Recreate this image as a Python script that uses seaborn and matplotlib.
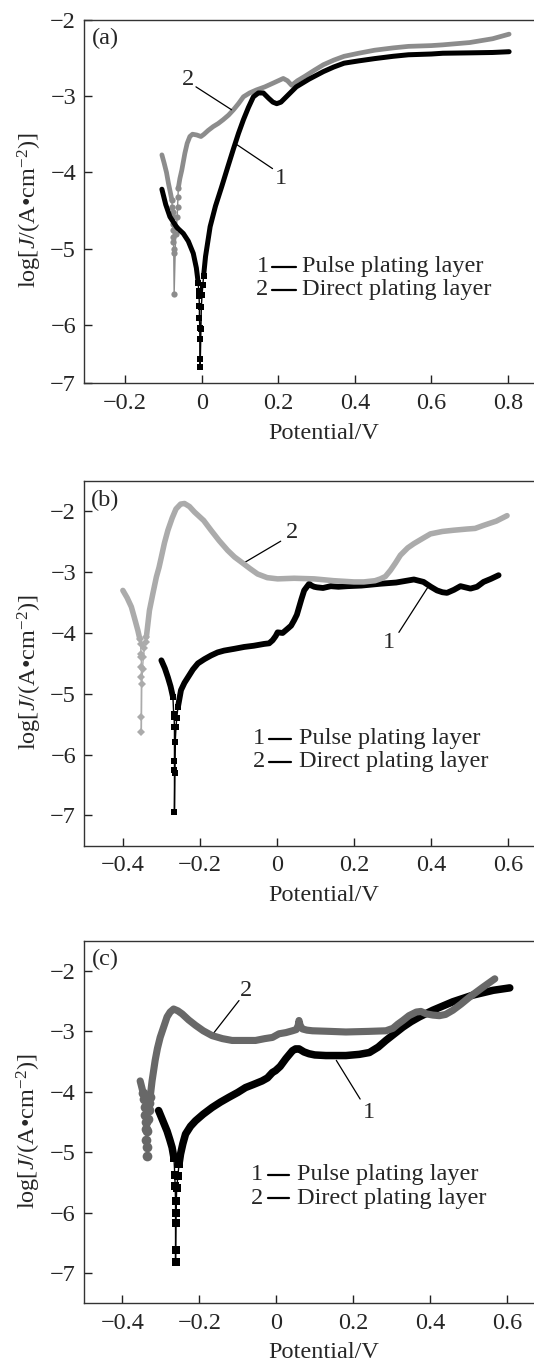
import seaborn as sns
import matplotlib.pyplot as plt

# ---- panel (a) data ----
a1_cath_x = [-0.104, -0.094, -0.083, -0.065, -0.048, -0.035, -0.022, -0.014, -0.009]
a1_cath_y = [-4.22, -4.42, -4.58, -4.72, -4.80, -4.90, -5.06, -5.25, -5.45]
a1_tip_x = [-0.009, -0.008, -0.007, -0.006, -0.006, -0.005, -0.005, -0.004, -0.004,
            -0.002, -0.001, 0.001, 0.003, 0.005]
a1_tip_y = [-5.45, -5.55, -5.62, -5.75, -5.90, -6.03, -6.18, -6.44, -6.55,
            -6.05, -5.76, -5.60, -5.47, -5.35]
a1_anod_x = [0.005, 0.010, 0.022, 0.036, 0.052, 0.068, 0.083, 0.096, 0.109, 0.122, 0.135,
             0.148, 0.161, 0.175, 0.186, 0.196, 0.207, 0.219, 0.231, 0.247, 0.28, 0.318,
             0.345, 0.372, 0.41, 0.452, 0.5, 0.54, 0.6, 0.63, 0.7, 0.76, 0.803]
a1_anod_y = [-5.35, -5.10, -4.71, -4.44, -4.19, -3.93, -3.69, -3.49, -3.31, -3.15, -3.01,
             -2.96, -2.96, -3.03, -3.08, -3.10, -3.08, -3.02, -2.96, -2.88, -2.78, -2.68,
             -2.62, -2.57, -2.54, -2.51, -2.48, -2.46, -2.45, -2.44, -2.435, -2.43, -2.42]

a2_cath_x = [-0.104, -0.098, -0.092, -0.087, -0.082, -0.078]
a2_cath_y = [-3.77, -3.88, -4.00, -4.14, -4.26, -4.36]
a2_tip_x = [-0.078, -0.077, -0.076, -0.076, -0.075, -0.075, -0.074, -0.074, -0.073, -0.073,
            -0.072, -0.068, -0.066, -0.064, -0.063, -0.062, -0.061]
a2_tip_y = [-4.36, -4.45, -4.52, -4.58, -4.67, -4.76, -4.84, -4.91, -5.00, -5.06,
            -5.59, -4.80, -4.71, -4.58, -4.45, -4.32, -4.20]
a2_anod_x = [-0.061, -0.057, -0.052, -0.048, -0.044, -0.038, -0.031, -0.024, -0.013, -0.002,
             0.006, 0.017, 0.030, 0.043, 0.056, 0.07, 0.083, 0.096, 0.109, 0.125, 0.143,
             0.165, 0.187, 0.200, 0.213, 0.224, 0.235, 0.25, 0.27, 0.295, 0.318, 0.345,
             0.372, 0.41, 0.452, 0.5, 0.54, 0.6, 0.63, 0.7, 0.76, 0.803]
a2_anod_y = [-4.20, -4.08, -3.97, -3.86, -3.75, -3.62, -3.53, -3.50, -3.51, -3.53,
             -3.50, -3.45, -3.40, -3.36, -3.31, -3.25, -3.18, -3.10, -3.01, -2.96, -2.92,
             -2.88, -2.83, -2.80, -2.77, -2.80, -2.86, -2.80, -2.74, -2.66, -2.59, -2.53,
             -2.48, -2.44, -2.40, -2.37, -2.35, -2.34, -2.33, -2.30, -2.25, -2.19]

# ---- panel (b) data ----
b1_cath_x = [-0.300, -0.291, -0.283, -0.276, -0.270]
b1_cath_y = [-4.45, -4.58, -4.73, -4.88, -5.05]
b1_tip_x = [-0.270, -0.268, -0.267, -0.266, -0.266, -0.266, -0.266, -0.265, -0.264,
            -0.262, -0.260, -0.257]
b1_tip_y = [-5.05, -5.33, -5.38, -5.55, -6.10, -6.26, -6.95, -6.30, -5.80,
            -5.55, -5.40, -5.22]
b1_anod_x = [-0.257, -0.249, -0.240, -0.231, -0.218, -0.205, -0.188, -0.171, -0.154, -0.137,
             -0.11, -0.085, -0.06, -0.033, -0.02, -0.011, -0.003, 0.002, 0.015, 0.028,
             0.037, 0.045, 0.052, 0.058, 0.064, 0.071, 0.078, 0.084, 0.09, 0.097, 0.105,
             0.12, 0.140, 0.16, 0.183, 0.22, 0.269, 0.31, 0.356, 0.381, 0.40, 0.416, 0.43,
             0.442, 0.46, 0.477, 0.49, 0.503, 0.52, 0.537, 0.556, 0.576]
b1_anod_y = [-5.22, -4.94, -4.82, -4.73, -4.60, -4.50, -4.43, -4.37, -4.32, -4.29,
             -4.26, -4.23, -4.21, -4.18, -4.17, -4.12, -4.05, -3.99, -4.00, -3.93,
             -3.88, -3.79, -3.70, -3.57, -3.44, -3.30, -3.24, -3.19, -3.22, -3.24, -3.25,
             -3.26, -3.23, -3.24, -3.23, -3.22, -3.19, -3.17, -3.12, -3.16, -3.24, -3.30, -3.33,
             -3.34, -3.29, -3.23, -3.25, -3.27, -3.24, -3.16, -3.11, -3.05]

b2_cath_x = [-0.400, -0.389, -0.378, -0.370, -0.361, -0.356]
b2_cath_y = [-3.30, -3.42, -3.57, -3.75, -3.96, -4.10]
b2_tip_x = [-0.356, -0.354, -0.353, -0.352, -0.352, -0.352, -0.352, -0.352, -0.351,
            -0.349, -0.347, -0.344, -0.341, -0.339]
b2_tip_y = [-4.10, -4.18, -4.34, -4.40, -4.56, -4.73, -5.39, -5.63, -4.84,
            -4.60, -4.40, -4.25, -4.15, -4.07]
b2_anod_x = [-0.339, -0.335, -0.331, -0.322, -0.313, -0.306, -0.300, -0.292, -0.283, -0.272,
             -0.262, -0.250, -0.240, -0.227, -0.214, -0.19, -0.171, -0.15, -0.128, -0.11,
             -0.093, -0.07, -0.050, -0.025, 0.002, 0.045, 0.097, 0.148, 0.2, 0.226, 0.255,
             0.269, 0.282, 0.295, 0.308, 0.321, 0.34, 0.356, 0.38, 0.399, 0.43, 0.459, 0.494,
             0.515, 0.537, 0.57, 0.598]
b2_anod_y = [-4.07, -3.85, -3.63, -3.35, -3.08, -2.92, -2.75, -2.52, -2.31, -2.11,
             -1.96, -1.88, -1.87, -1.92, -2.01, -2.15, -2.31, -2.48, -2.64, -2.75,
             -2.83, -2.94, -3.03, -3.09, -3.11, -3.10, -3.11, -3.14, -3.16, -3.16, -3.14,
             -3.11, -3.07, -2.97, -2.85, -2.72, -2.60, -2.53, -2.44, -2.37, -2.33, -2.31, -2.29,
             -2.28, -2.23, -2.16, -2.07]

# ---- panel (c) data ----
c1_cath_x = [-0.306, -0.295, -0.284, -0.277, -0.271, -0.266]
c1_cath_y = [-4.31, -4.48, -4.65, -4.79, -4.92, -5.10]
c1_tip_x = [-0.266, -0.264, -0.263, -0.262, -0.262, -0.262, -0.262, -0.261, -0.259,
            -0.256, -0.253]
c1_tip_y = [-5.10, -5.37, -5.56, -5.81, -6.17, -6.61, -6.81, -6.00, -5.60,
            -5.40, -5.20]
c1_anod_x = [-0.253, -0.249, -0.243, -0.236, -0.223, -0.210, -0.19, -0.167, -0.145, -0.123,
             -0.10, -0.080, -0.06, -0.037, -0.023, -0.010, -0.002, 0.01, 0.025, 0.042,
             0.05, 0.059, 0.072, 0.085, 0.1, 0.129, 0.181, 0.216, 0.242, 0.265, 0.285,
             0.307, 0.329, 0.35, 0.372, 0.407, 0.459, 0.511, 0.564, 0.607]
c1_anod_y = [-5.20, -5.03, -4.86, -4.70, -4.57, -4.48, -4.37, -4.26, -4.17, -4.09,
             -4.01, -3.93, -3.88, -3.82, -3.77, -3.68, -3.65, -3.58, -3.45, -3.32,
             -3.29, -3.29, -3.34, -3.37, -3.39, -3.40, -3.40, -3.38, -3.35, -3.26, -3.15,
             -3.04, -2.93, -2.84, -2.76, -2.65, -2.51, -2.40, -2.32, -2.28]

c2_cath_x = [-0.354, -0.350, -0.346]
c2_cath_y = [-3.82, -3.92, -4.02]
c2_tip_x = [-0.346, -0.344, -0.342, -0.341, -0.340, -0.339, -0.338, -0.337, -0.337,
            -0.336, -0.334, -0.332, -0.330, -0.328]
c2_tip_y = [-4.02, -4.12, -4.25, -4.38, -4.50, -4.62, -4.80, -4.92, -5.06,
            -4.65, -4.45, -4.30, -4.18, -4.09]
c2_anod_x = [-0.328, -0.323, -0.319, -0.315, -0.309, -0.302, -0.293, -0.284, -0.276, -0.267,
             -0.256, -0.245, -0.228, -0.210, -0.19, -0.167, -0.14, -0.115, -0.085, -0.054,
             -0.03, -0.010, 0.007, 0.025, 0.042, 0.052, 0.057, 0.059, 0.062, 0.068, 0.08,
             0.094, 0.14, 0.181, 0.24, 0.285, 0.303, 0.316, 0.329, 0.345, 0.364, 0.376,
             0.390, 0.407, 0.424, 0.44, 0.459, 0.48, 0.503, 0.52, 0.537, 0.568]
c2_anod_y = [-4.09, -3.82, -3.65, -3.48, -3.28, -3.10, -2.93, -2.76, -2.68, -2.63,
             -2.66, -2.71, -2.81, -2.90, -2.99, -3.07, -3.12, -3.15, -3.15, -3.15,
             -3.12, -3.10, -3.04, -3.02, -2.99, -2.97, -2.90, -2.82, -2.90, -2.96, -2.98,
             -2.99, -3.00, -3.01, -3.00, -2.99, -2.95, -2.88, -2.82, -2.74, -2.68, -2.67,
             -2.71, -2.73, -2.74, -2.72, -2.65, -2.55, -2.43, -2.35, -2.27, -2.13]

# ticks
xticks_a = [-0.2, 0, 0.2, 0.4, 0.6, 0.8]
xlabels_a = ['\u22120.2', '0', '0.2', '0.4', '0.6', '0.8']
yticks_a = [-6.76, -6, -5, -4, -3, -2]
ylabels_a = ['\u22127', '\u22126', '\u22125', '\u22124', '\u22123', '\u22122']
xticks_bc = [-0.4, -0.2, 0, 0.2, 0.4, 0.6]
xlabels_bc = ['\u22120.4', '\u22120.2', '0', '0.2', '0.4', '0.6']
yticks_bc = [-7, -6, -5, -4, -3, -2]
ylabels_bc = ['\u22127', '\u22126', '\u22125', '\u22124', '\u22123', '\u22122']

legend_labels = ['Pulse plating layer', 'Direct plating layer']

sns.set_theme(style='ticks')
plt.rcParams['font.family'] = ['Liberation Serif', 'DejaVu Serif']
plt.rcParams['mathtext.fontset'] = 'custom'
plt.rcParams['mathtext.rm'] = 'Liberation Serif'
plt.rcParams['mathtext.it'] = 'Liberation Serif:italic'
FS = 17.5

fig = plt.figure(figsize=(5.34, 13.63), dpi=100)

panels = [
    dict(tag='(a)', pos=[0.158, 0.7188, 0.842, 0.2668], xlim=(-0.3065, 0.868), ylim=(-6.76, -2.0),
         xt=xticks_a, xl=xlabels_a, yt=yticks_a, yl=ylabels_a,
         c1=(a1_cath_x, a1_cath_y, a1_tip_x, a1_tip_y, a1_anod_x, a1_anod_y),
         c2=(a2_cath_x, a2_cath_y, a2_tip_x, a2_tip_y, a2_anod_x, a2_anod_y),
         col2='#8c8c8c', m2='o', lw=3.6, black_top=True,
         lab2=((-0.035, -2.79), (-0.015, -2.88), (0.078, -3.18)),
         lab1=((0.207, -4.08), (0.185, -3.95), (0.087, -3.62)),
         leg=(0.396, 0.321, 0.257, 0.418, 0.471, 0.485)),
    dict(tag='(b)', pos=[0.158, 0.3795, 0.842, 0.2676], xlim=(-0.5, 0.668), ylim=(-7.5, -1.5),
         xt=xticks_bc, xl=xlabels_bc, yt=yticks_bc, yl=ylabels_bc,
         c1=(b1_cath_x, b1_cath_y, b1_tip_x, b1_tip_y, b1_anod_x, b1_anod_y),
         c2=(b2_cath_x, b2_cath_y, b2_tip_x, b2_tip_y, b2_anod_x, b2_anod_y),
         col2='#ababab', m2='D', lw=4.2, black_top=False,
         lab2=((0.039, -2.34), (0.010, -2.49), (-0.089, -2.86)),
         lab1=((0.291, -4.15), (0.317, -3.99), (0.392, -3.25)),
         leg=(0.388, 0.294, 0.230, 0.411, 0.460, 0.477)),
    dict(tag='(c)', pos=[0.1573, 0.0438, 0.8427, 0.266], xlim=(-0.5, 0.670), ylim=(-7.5, -1.5),
         xt=xticks_bc, xl=xlabels_bc, yt=yticks_bc, yl=ylabels_bc,
         c1=(c1_cath_x, c1_cath_y, c1_tip_x, c1_tip_y, c1_anod_x, c1_anod_y),
         c2=(c2_cath_x, c2_cath_y, c2_tip_x, c2_tip_y, c2_anod_x, c2_anod_y),
         col2='#686868', m2='o', lw=5.4, black_top=False,
         lab2=((-0.079, -2.32), (-0.097, -2.49), (-0.168, -3.07)),
         lab1=((0.241, -4.34), (0.218, -4.12), (0.156, -3.48)),
         leg=(0.385, 0.354, 0.290, 0.408, 0.456, 0.473)),
]


def draw_curve(ax, data, color, marker, lw, msize, z):
    cx, cy, tx, ty, ax_, ay = data
    sns.lineplot(x=tx, y=ty, ax=ax, sort=False, estimator=None, color=color, lw=1.0,
                 marker=marker, markersize=msize, markeredgewidth=0, zorder=z)
    for xs, ys in ((cx, cy), (ax_, ay)):
        sns.lineplot(x=xs, y=ys, ax=ax, sort=False, estimator=None, color=color, lw=lw,
                     solid_capstyle='round', solid_joinstyle='round', zorder=z)


for p in panels:
    ax = fig.add_axes(p['pos'])
    z1, z2 = (4, 3) if p['black_top'] else (3, 4)
    big = p['tag'] == '(c)'
    draw_curve(ax, p['c1'], 'black', 's', p['lw'], 6 if big else 4.5, z1)
    draw_curve(ax, p['c2'], p['col2'], p['m2'], p['lw'] * 0.95, 7 if big else 4.5, z2)

    ax.set_xlim(*p['xlim'])
    ax.set_ylim(*p['ylim'])
    ax.set_xticks(p['xt'])
    ax.set_xticklabels(p['xl'])
    ax.set_yticks(p['yt'])
    ax.set_yticklabels(p['yl'])
    ax.tick_params(direction='in', length=6, width=1, labelsize=FS, pad=7, color='#222222')
    ax.tick_params(axis='y', pad=6)
    for s in ('left', 'bottom', 'top'):
        ax.spines[s].set_linewidth(1.0)
        ax.spines[s].set_color('#333333')
    ax.spines['right'].set_visible(False)

    ax.set_xlabel('Potential/V', fontsize=FS)
    ax.xaxis.set_label_coords(0.532, -0.108)
    ax.set_ylabel('log[$J$/(A\u2022cm$^{-2}$)]', fontsize=FS)
    ax.yaxis.set_label_coords(-0.09, 0.475)

    ax.text(0.047, 0.948, p['tag'], transform=ax.transAxes, fontsize=FS,
            ha='center', va='center')

    # callout labels
    for num, (txt, start, end) in (('2', p['lab2']), ('1', p['lab1'])):
        ax.text(txt[0], txt[1], num, fontsize=FS, ha='center', va='center')
        ax.annotate('', xy=end, xytext=start,
                    arrowprops=dict(arrowstyle='-', lw=0.9, color='black',
                                    shrinkA=0, shrinkB=0))

    # legend
    nx, y1, y2, lx0, lx1, tx0 = p['leg']
    for yy, num, lab in ((y1, '1', legend_labels[0]), (y2, '2', legend_labels[1])):
        ax.text(nx, yy, num, transform=ax.transAxes, fontsize=FS, ha='center', va='center')
        ax.plot([lx0, lx1], [yy, yy], transform=ax.transAxes, color='black', lw=1.6)
        ax.text(tx0, yy, lab, transform=ax.transAxes, fontsize=FS, ha='left', va='center')

fig.savefig('out.png', dpi=100)
